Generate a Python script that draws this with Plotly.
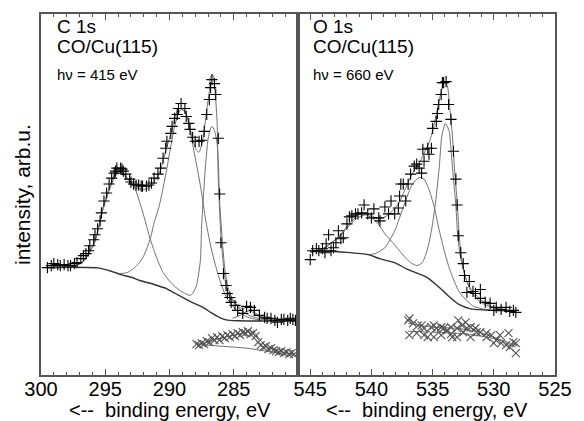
import plotly.graph_objects as go

# ---- C 1s (left panel) ----
c1s_E = [299.5, 299.2, 299.0, 298.7, 298.5, 298.2, 297.9, 297.7, 297.4, 297.2, 296.9, 296.7, 296.5, 296.3,
         296.2, 295.9, 295.8, 295.6, 295.4, 295.3, 295.1, 294.9, 294.7, 294.5, 294.3, 294.2, 294.1, 293.8,
         293.7, 293.6, 293.4, 293.1, 293.0, 292.8, 292.6, 292.4, 292.2, 292.1, 291.8, 291.6, 291.4, 291.2,
         290.9, 290.7, 290.5, 290.3, 290.2, 289.9, 289.8, 289.6, 289.4, 289.3, 289.1, 288.8, 288.7, 288.5,
         288.4, 288.2, 288.0, 287.7, 287.5, 287.3, 287.1, 286.9, 286.8, 286.7, 286.5, 286.4, 286.2, 286.1,
         286.0, 285.8, 285.6, 285.5, 285.3, 285.2, 284.9, 284.7, 284.3, 284.0, 283.7, 283.4, 283.0, 282.6,
         282.4, 282.1, 281.8, 281.6, 281.3, 281.1, 280.8, 280.6, 280.4, 280.2]
c1s_I = [108, 110, 112, 111, 110, 111, 110, 110, 112, 113, 117, 120, 122, 125,
         130, 136, 141, 147, 155, 163, 175, 183, 192, 198, 203, 205, 208, 208,
         207, 205, 202, 197, 194, 192, 191, 191, 190, 190, 190, 191, 193, 198,
         202, 208, 218, 228, 235, 243, 250, 258, 262, 268, 273, 268, 260, 253,
         247, 239, 235, 235, 236, 245, 262, 277, 289, 297, 293, 282, 238, 182,
         133, 102, 90, 82, 78, 73, 70, 65, 62, 69, 68, 65, 60, 58,
         57, 57, 55, 53, 56, 56, 55, 57, 56, 55]

c1s_fit_E = [299.5, 298.5, 297.4, 296.6, 295.8, 295.1, 294.5, 294.2, 293.8, 293.4, 292.8, 292.3, 291.8,
             291.4, 290.8, 290.3, 289.8, 289.5, 289.2, 288.8, 288.5, 288.2, 287.9, 287.7, 287.4, 287.1,
             286.9, 286.8, 286.6, 286.5, 286.3, 286.2, 286.0, 285.8, 285.6, 285.3, 284.8, 284.4, 283.8,
             283.5, 282.9, 282.2, 281.2, 280.1]
c1s_fit_I = [108, 108.5, 109, 116, 135, 172, 195, 203, 205.5, 200, 190, 187, 187,
             191, 203, 225, 247, 263, 268, 265, 253, 237, 226, 224, 237, 267,
             285, 300, 301.5, 293, 255, 195, 140, 110, 90, 78, 71, 67, 68,
             64, 59, 56, 55, 54.5]

c1s_bg_E = [299.5, 297.5, 295.6, 294.7, 293.8, 292.9, 292.3, 291.2, 290.2, 289.5, 288.3, 287.4, 286.8,
            286.2, 285.6, 284.7, 283.2, 280.1]
c1s_bg_I = [108, 108.3, 107.7, 105, 101, 98, 95, 91, 86.7, 81.7, 73.3, 68, 63,
            58.5, 55.5, 54.5, 54.3, 54.2]

c1s_pk13_E = [299.5, 297.4, 296.6, 295.8, 295.1, 294.5, 294.2, 293.8, 293.4, 293.0, 292.7, 292.4, 292.0,
              291.5, 291.0, 290.5, 289.9, 289.3, 288.8, 288.4, 288.2, 287.9, 287.6, 287.5, 287.2, 287.0,
              286.8, 286.7, 286.5, 286.3, 286.2, 286.1, 285.9, 285.7, 285.4, 285.0, 284.5, 283.8, 282.8,
              281.6, 280.1]
c1s_pk13_I = [108, 109, 115.5, 134, 170, 192, 201, 203.5, 199, 194, 188, 177, 160,
              136.7, 118, 103, 93, 86, 82, 80, 82, 90, 115, 150, 210, 237,
              248, 250, 246, 233, 215, 175, 137, 107, 86, 74, 66, 60, 56,
              54.5, 54.3]

c1s_pk2_E = [294.7, 293.9, 293.3, 292.8, 292.4, 292.0, 291.5, 291.2, 290.8, 290.5, 290.2, 289.9, 289.6,
             289.3, 289.1, 288.8, 288.5, 288.2, 287.8, 287.5, 287.2, 286.8, 286.2, 285.6, 284.8, 283.9, 282.8]
c1s_pk2_I = [105, 102, 103, 107, 112, 120, 136.7, 153, 170, 188, 208, 230, 250,
             263, 267, 265, 254, 232, 205, 183, 157, 130, 100, 79, 65, 58, 55]

c1s_pk4_E = [285.1, 284.5, 284.0, 283.7, 283.3, 282.8, 282.0]
c1s_pk4_I = [57, 60, 64, 64.5, 61, 56.5, 54.5]

c1s_res_E = [287.9, 287.7, 287.5, 287.3, 287.1, 286.9, 286.7, 286.5, 286.3, 286.1,
             285.9, 285.7, 285.5, 285.3, 285.1, 284.9, 284.7, 284.5, 284.3, 284.1,
             283.9, 283.7, 283.5, 283.3, 283.1, 282.9, 282.7, 282.5, 282.3, 282.1,
             281.9, 281.7, 281.5, 281.3, 281.1, 280.9, 280.7, 280.5, 280.3]
c1s_res_I = [31, 30, 32, 31, 34, 33, 37, 35, 38, 35,
             39, 37, 40, 38, 41, 39, 42, 40, 43, 42,
             44, 41, 42, 39, 33, 30, 28, 29, 26, 27,
             25, 24, 23, 24, 22, 23, 21, 22, 21]
c1s_rfit_E = [287.9, 287.0, 286.0, 285.0, 284.0, 283.4, 283.0, 282.5, 281.5, 280.3]
c1s_rfit_I = [31, 33, 37, 40, 43, 43, 36, 29, 24, 21]
c1s_rbase_E = [287.9, 287.0, 286.0, 285.0, 284.0, 283.0, 282.0, 281.0, 280.3]
c1s_rbase_I = [31, 30, 29, 28, 27, 25, 23, 21.5, 20]

# ---- O 1s (right panel) ----
o1s_E = [545.0, 544.8, 544.5, 544.3, 544.0, 543.8, 543.7, 543.5, 543.3, 543.1,
         542.9, 542.7, 542.5, 542.3, 542.0, 541.8, 541.6, 541.3, 541.1, 540.8,
         540.6, 540.3, 540.0, 539.8, 539.4, 539.3, 538.9, 538.6, 538.4, 538.1,
         537.8, 537.7, 537.6, 537.4, 537.2, 537.0, 536.8, 536.5, 536.3, 536.1,
         535.9, 535.8, 535.7, 535.4, 535.3, 535.1, 535.0, 534.7, 534.6, 534.5,
         534.3, 534.2, 534.1, 533.9, 533.7, 533.5, 533.3, 533.1, 533.0, 532.9,
         532.7, 532.5, 532.4, 532.2, 532.0, 531.7, 531.5, 531.1, 531.1, 530.7,
         530.3, 530.0, 529.8, 529.4, 529.0, 528.7, 528.4, 528.2]
o1s_I = [116, 125, 127, 125, 127, 123, 132, 141, 125, 128,
         133, 145, 137, 138, 152, 159, 160, 162, 162, 163,
         171, 162, 158, 167, 158, 155, 169, 162, 175, 162,
         168, 180, 192, 192, 175, 192, 202, 210, 212, 208,
         203, 227, 215, 228, 222, 228, 248, 255, 263, 272,
         282, 294, 294, 295, 272, 257, 225, 197, 171, 140,
         123, 112, 100, 83, 94, 84, 82, 86, 77, 73,
         72, 65, 68, 66, 68, 64, 65, 63]

o1s_fit_E = [545.0, 544.15, 543.35, 542.55, 541.75, 541.15, 540.7, 540.1, 539.45, 538.9, 538.35, 537.75,
             537.3, 536.8, 536.4, 536.0, 535.7, 535.25, 534.85, 534.55, 534.3, 534.05, 533.8, 533.6,
             533.35, 533.2, 533.0, 532.85, 532.7, 532.45, 532.15, 531.65, 531.0, 530.05, 529.05, 528.2]
o1s_fit_I = [124, 125, 132, 141, 153, 160, 163, 161, 157, 159, 164, 173,
             185, 199, 208, 215, 223, 235, 253, 271, 285, 295, 291, 269,
             235, 205, 175, 145, 123, 105, 92, 83, 75, 68, 64.5, 63.5]

o1s_bg_E = [545.0, 543.75, 541.97, 540.27, 539.28, 538.1, 537.13, 535.44, 534.31, 533.66, 532.85,
            531.89, 530.27, 528.18]
o1s_bg_I = [124, 124.5, 123.3, 121, 116.7, 113, 106.7, 98, 86.5, 79, 71,
            66.5, 65, 64.5]

o1s_pkAC_E = [545.03, 544.15, 543.35, 542.55, 541.75, 541.15, 540.5, 539.95, 539.4, 538.9, 538.4, 537.85,
              537.3, 536.8, 536.3, 535.85, 535.45, 535.1, 534.85, 534.7, 534.45, 534.25, 533.95, 533.65,
              533.5, 533.35, 533.1, 532.95, 532.7, 532.35, 531.9, 531.25, 530.45, 529.25, 528.2]
o1s_pkAC_I = [124, 126, 132, 140, 151, 158, 161, 158, 151, 142, 135, 127,
              119, 113, 110, 113, 125, 145, 165, 180, 210, 240, 253, 245,
              227, 205, 170, 140, 117, 100, 85, 75, 69, 65.5, 64.5]

o1s_pkB_E = [540.27, 539.7, 538.9, 538.1, 537.3, 536.65, 536.1, 535.7, 535.25, 534.85, 534.45, 534.05,
             533.6, 532.8, 531.65, 530.27]
o1s_pkB_I = [121, 122, 128, 145, 172, 192, 198.5, 197, 185, 168, 145, 125,
             106, 83, 69, 65]

o1s_res_E = [537.0, 536.9, 536.9, 536.6, 536.3, 536.2, 535.9, 535.7, 535.7, 535.4,
             535.1, 534.9, 534.9, 534.7, 534.3, 534.3, 534.1, 533.8, 533.5, 533.5,
             533.4, 533.0, 533.0, 532.9, 532.6, 532.5, 532.3, 532.2, 531.9, 531.9,
             531.5, 531.4, 531.1, 530.6, 530.6, 530.2, 530.0, 529.8, 529.5, 529.4,
             529.0, 528.8, 528.7, 528.4, 528.2, 528.2]
o1s_res_I = [55, 57, 40, 52, 42, 50, 50, 47, 40, 38,
             48, 50, 38, 47, 48, 40, 47, 45, 48, 41,
             38, 47, 38, 55, 50, 43, 53, 47, 48, 38,
             47, 43, 43, 38, 42, 40, 32, 35, 40, 32,
             30, 42, 28, 33, 22, 32]
o1s_rfit_E = [537.0, 535.0, 533.0, 531.5, 530.0, 528.2]
o1s_rfit_I = [52, 48, 47, 44, 38, 30]
o1s_rbase_E = [537.0, 535.0, 533.0, 531.0, 529.5, 528.2]
o1s_rbase_I = [44, 43, 42, 39, 35, 28]

x_ticks_c = [300, 295, 290, 285]
x_ticks_o = [545, 540, 535, 530, 525]

FONT = "Liberation Sans, Arial, Helvetica, sans-serif"
LINE_C = "#707070"
FRAME = "#555555"

fig = go.Figure()


def add_line(x, y, xa, ya, color=LINE_C, width=1.0):
    fig.add_trace(go.Scatter(x=x, y=y, xaxis=xa, yaxis=ya, mode="lines",
                             line=dict(color=color, width=width, shape="spline", smoothing=0.6),
                             showlegend=False, hoverinfo="skip"))


def add_marks(x, y, xa, ya, symbol, color):
    fig.add_trace(go.Scatter(x=x, y=y, xaxis=xa, yaxis=ya, mode="markers",
                             marker=dict(symbol=symbol, size=8, color=color,
                                         line=dict(width=1.1, color=color)),
                             showlegend=False))


# left panel
add_line(c1s_pk2_E, c1s_pk2_I, "x", "y")
add_line(c1s_pk13_E, c1s_pk13_I, "x", "y")
add_line(c1s_pk4_E, c1s_pk4_I, "x", "y")
add_line(c1s_fit_E, c1s_fit_I, "x", "y")
add_line(c1s_bg_E, c1s_bg_I, "x", "y", color="#333333", width=1.4)
add_line(c1s_rbase_E, c1s_rbase_I, "x", "y")
add_line(c1s_rfit_E, c1s_rfit_I, "x", "y")
add_marks(c1s_res_E, c1s_res_I, "x", "y", "x-thin", "#555555")
add_marks(c1s_E, c1s_I, "x", "y", "cross-thin", "black")

# right panel
add_line(o1s_pkB_E, o1s_pkB_I, "x2", "y2")
add_line(o1s_pkAC_E, o1s_pkAC_I, "x2", "y2")
add_line(o1s_fit_E, o1s_fit_I, "x2", "y2")
add_line(o1s_bg_E, o1s_bg_I, "x2", "y2", color="#333333", width=1.4)
add_line(o1s_rbase_E, o1s_rbase_I, "x2", "y2")
add_line(o1s_rfit_E, o1s_rfit_I, "x2", "y2")
add_marks(o1s_res_E, o1s_res_I, "x2", "y2", "x-thin", "#555555")
add_marks(o1s_E, o1s_I, "x2", "y2", "cross-thin", "black")

xcommon = dict(ticks="inside", ticklen=6, tickwidth=1, tickcolor=FRAME,
               minor=dict(dtick=1, tick0=0, ticks="inside", ticklen=3, tickcolor=FRAME, showgrid=False),
               showline=True, linecolor=FRAME, linewidth=1.5, mirror="ticks",
               showgrid=False, zeroline=False, ticklabelstandoff=-5,
               tickfont=dict(family=FONT, size=20, color="black"))
ycommon = dict(range=[0, 363], showticklabels=False, ticks="", showline=True,
               linecolor=FRAME, linewidth=1.5, mirror=True, showgrid=False, zeroline=False)

fig.update_layout(
    width=584, height=421,
    margin=dict(l=41, r=21, t=12, b=46),
    paper_bgcolor="white", plot_bgcolor="white",
    font=dict(family=FONT, color="black"),
    xaxis=dict(domain=[0, 0.5], range=[300, 280], tickvals=x_ticks_c, anchor="y", **xcommon),
    xaxis2=dict(domain=[0.5, 1], range=[546, 525], tickvals=x_ticks_o, anchor="y2", **xcommon),
    yaxis=dict(domain=[0, 1], anchor="x", **ycommon),
    yaxis2=dict(domain=[0, 1], anchor="x2", **ycommon),
)

fig.add_shape(type="line", xref="paper", yref="paper", x0=0.5, x1=0.5, y0=0, y1=1,
              line=dict(color=FRAME, width=2.5))


def note(text, x, y, size, **kw):
    fig.add_annotation(text=text, xref="paper", yref="paper", x=x, y=y, showarrow=False,
                       font=dict(family=FONT, size=size, color="black"), **kw)


note("C 1s", 0.027, 0.9645, 19, xanchor="left", yanchor="middle")
note("CO/Cu(115)", 0.027, 0.909, 19, xanchor="left", yanchor="middle")
note("h\u03bd = 415 eV", 0.027, 0.832, 15, xanchor="left", yanchor="middle")
note("O 1s", 0.525, 0.9645, 19, xanchor="left", yanchor="middle")
note("CO/Cu(115)", 0.525, 0.909, 19, xanchor="left", yanchor="middle")
note("h\u03bd = 660 eV", 0.525, 0.832, 15, xanchor="left", yanchor="middle")
note("&lt;--\u00a0 binding energy, eV", 0.25, -0.096, 20, xanchor="center", yanchor="middle")
note("&lt;--\u00a0 binding energy, eV", 0.75, -0.096, 20, xanchor="center", yanchor="middle")
note("intensity, arb.u.", -0.036, 0.5, 21, xanchor="center", yanchor="middle", textangle=-90)

fig.write_html("out.html", config={"displayModeBar": False},
               post_script="document.body.style.margin='0';")
